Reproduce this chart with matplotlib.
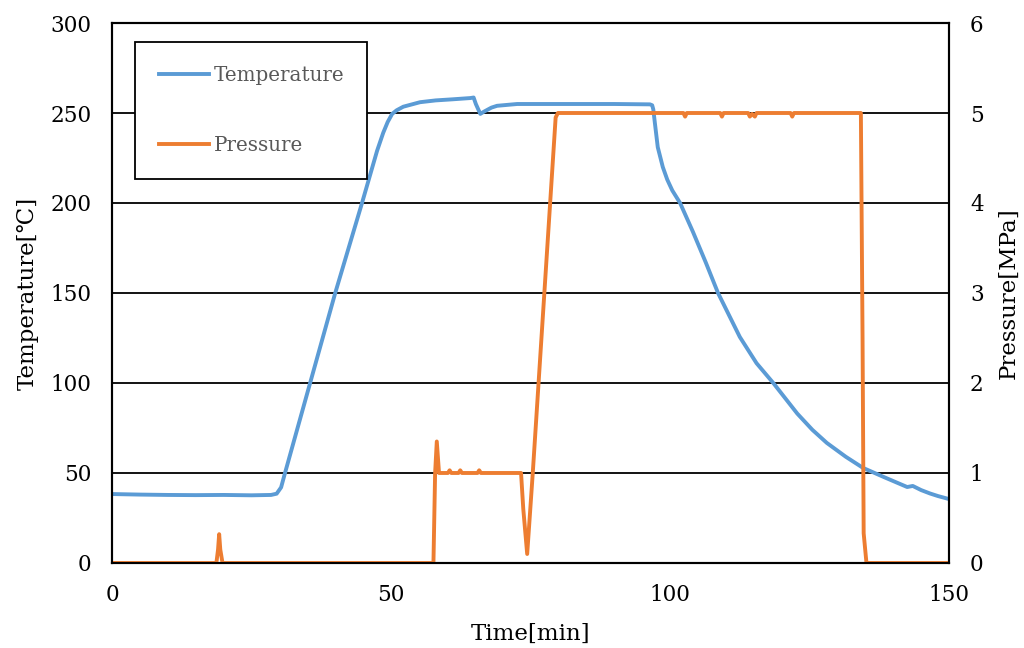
import matplotlib
matplotlib.use('Agg')
import matplotlib.pyplot as plt

plt.rcParams['font.family'] = ['DejaVu Serif', 'DejaVu Sans', 'Noto Sans CJK JP']

BLUE = '#5B9BD5'
ORANGE = '#ED7D31'

# temperature log [min], [degC]
temp_time = [0, 5, 10, 15, 20, 25, 28.5, 29.5, 30.3, 31.0, 35.5, 40.0, 44.8,
             47.5, 48.6, 49.4, 50.2, 51.0, 52.2, 55.2, 58.0, 61.0, 64.2, 64.8,
             65.2, 66.0, 66.8, 68.0, 69.0, 72.6, 80, 90, 96.4, 96.8, 97.0,
             97.3, 97.8, 98.7, 99.5, 100.4, 101.8, 104.1, 106.4, 108.6, 112.5,
             115.5, 118.5, 122.8, 125.5, 128.1, 131.5, 134.6, 138.5, 142.5,
             143.5, 145.0, 146.6, 148.0, 150.0]
temp_value = [38.3, 38.0, 37.8, 37.7, 37.8, 37.6, 37.8, 38.5, 42.0, 50.0, 100,
              150, 200, 229, 239, 245, 249.5, 251.5, 253.5, 256.0, 257.0, 257.6,
              258.3, 258.6, 255.0, 249.5, 251.0, 253.0, 254.0, 255.0, 255.0,
              255.0, 254.8, 254.3, 252.0, 244.0, 231.0, 220.0, 213.0, 207.0,
              200, 184, 167, 150, 125.6, 111, 100, 83, 74, 66.7, 59, 52.8, 47.5,
              42.2, 42.8, 40.5, 38.6, 37.2, 35.5]

# pressure log [min], [MPa]
pres_time = [0, 18.7, 19.0, 19.2, 19.4, 19.8, 57.6, 57.9, 58.2, 58.6, 60.2,
             60.5, 60.8, 62.1, 62.4, 62.7, 65.5, 65.8, 66.1, 73.3, 73.7, 74.4,
             75.4, 79.5, 79.9, 102.4, 102.7, 103.0, 109.0, 109.3, 109.6, 114.0,
             114.3, 114.7, 115.2, 115.5, 121.6, 121.9, 122.2, 134.2, 134.5,
             134.7, 135.2, 150]
pres_value = [0, 0, 0.15, 0.32, 0.15, 0, 0, 1.0, 1.35, 1.0, 1.0, 1.03, 1.0,
              1.0, 1.03, 1.0, 1.0, 1.03, 1.0, 1.0, 0.6, 0.1, 1.0, 4.95, 5.0,
              5.0, 4.96, 5.0, 5.0, 4.96, 5.0, 5.0, 4.96, 4.99, 4.96, 5.0, 5.0,
              4.96, 5.0, 5.0, 2.5, 0.33, 0, 0]

fig = plt.figure(figsize=(10.24, 6.48), dpi=100)
ax1 = fig.add_axes([0.1094, 0.1312, 0.8174, 0.8333])
ax2 = ax1.twinx()

ax1.plot(temp_time, temp_value, color=BLUE, lw=2.8, label='Temperature',
         solid_joinstyle='round')
ax2.plot(pres_time, pres_value, color=ORANGE, lw=2.8, label='Pressure',
         solid_joinstyle='round')

ax1.set_xlim(0, 150)
ax1.set_ylim(0, 300)
ax2.set_ylim(0, 6)
ax1.set_xticks([0, 50, 100, 150])
ax1.set_yticks(range(0, 301, 50))
ax2.set_yticks(range(0, 7))

ax1.yaxis.grid(True, color='black', lw=1.3)
ax1.set_axisbelow(True)
for ax in (ax1, ax2):
    for sp in ax.spines.values():
        sp.set_color('black')
        sp.set_linewidth(1.5)
    ax.tick_params(length=0, labelsize=15.5, pad=15)

ax1.set_xlabel('Time[min]', fontsize=16.5, labelpad=12)
ax1.set_ylabel('Temperature[℃]', fontsize=16.5, labelpad=8)
ax2.set_ylabel('Pressure[MPa]', fontsize=16.5, labelpad=10)

h1, l1 = ax1.get_legend_handles_labels()
h2, l2 = ax2.get_legend_handles_labels()
leg = ax2.legend(h1 + h2, l1 + l2, loc='upper left',
                 bbox_to_anchor=(0.0275, 0.713, 0.277, 0.252), mode='expand',
                 borderaxespad=0, fontsize=14.3, labelspacing=2.6,
                 borderpad=1.2, handlelength=2.5, handletextpad=0.25,
                 fancybox=False, framealpha=1)
leg.get_frame().set_edgecolor('black')
leg.get_frame().set_linewidth(1.3)
for txt in leg.get_texts():
    txt.set_color('#595959')

fig.savefig('out.png', dpi=100)
